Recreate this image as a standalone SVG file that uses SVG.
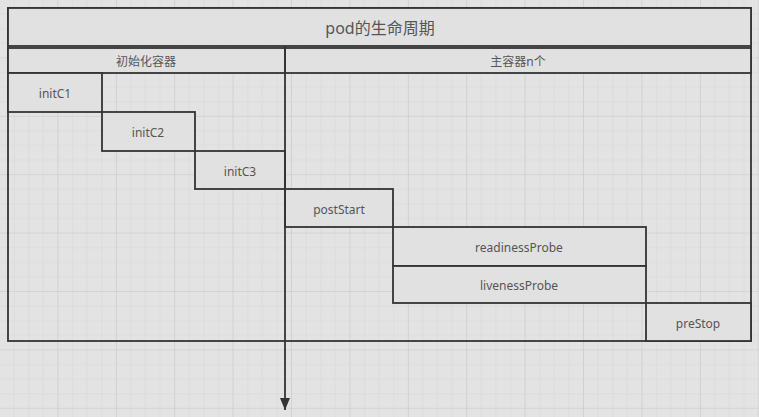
<svg xmlns="http://www.w3.org/2000/svg" width="759" height="417" viewBox="0 0 759 417">
<defs>
<pattern id="minor" width="14.6" height="14.6" patternUnits="userSpaceOnUse" x="0" y="0">
<path d="M14.6 0V14.6H0" fill="none" stroke="#d5d5d5" stroke-width="1"/>
</pattern>
<pattern id="major" width="58.4" height="58.4" patternUnits="userSpaceOnUse" x="0" y="0">
<rect width="58.4" height="58.4" fill="url(#minor)"/>
<path d="M58.4 0V58.4H0" fill="none" stroke="#cbcbcb" stroke-width="1.2"/>
</pattern>
<marker id="arr" markerWidth="12" markerHeight="10" refX="12" refY="5" orient="auto" markerUnits="userSpaceOnUse" viewBox="0 0 12 10">
<path d="M0 0L12 5L0 10Z" fill="#333"/>
</marker>
<style>
.box{fill:#e1e1e1;stroke:#333;stroke-width:1.8}
.frame{fill:none;stroke:#333;stroke-width:1.8}
.t{font-family:"Noto Sans","Noto Sans CJK SC",sans-serif;font-size:12px;fill:#555;text-anchor:middle;dominant-baseline:central}
.title{font-size:16px}
</style>
</defs>
<rect width="759" height="417" fill="#e3e3e3"/>
<rect width="759" height="417" fill="url(#major)"/>
<rect class="frame" x="8" y="8" width="743" height="333"/>
<g id="title"><rect class="box" x="8" y="8" width="743" height="38"/><text class="t title" x="380" y="28">pod的生命周期</text></g>
<g id="init-header"><rect class="box" x="8" y="48" width="277" height="25"/><text class="t" x="146" y="61">初始化容器</text></g>
<g id="main-header"><rect class="box" x="285" y="48" width="466" height="25"/><text class="t" x="518" y="61">主容器n个</text></g>
<g id="initC1"><rect class="box" x="8" y="73" width="94" height="39"/><text class="t" x="55" y="93">initC1</text></g>
<g id="initC2"><rect class="box" x="102" y="112" width="93" height="39"/><text class="t" x="148" y="132">initC2</text></g>
<g id="initC3"><rect class="box" x="195" y="151" width="90" height="38"/><text class="t" x="240" y="171">initC3</text></g>
<g id="postStart"><rect class="box" x="285" y="189" width="108" height="38"/><text class="t" x="339" y="209">postStart</text></g>
<g id="readinessProbe"><rect class="box" x="393" y="227" width="253" height="39"/><text class="t" x="519" y="247">readinessProbe</text></g>
<g id="livenessProbe"><rect class="box" x="393" y="266" width="253" height="37"/><text class="t" x="519" y="285">livenessProbe</text></g>
<g id="preStop"><rect class="box" x="646" y="303" width="105" height="38"/><text class="t" x="698" y="323">preStop</text></g>
<g id="connectors"><line x1="285" y1="46" x2="285" y2="410" stroke="#333" stroke-width="1.8" marker-end="url(#arr)"/></g>
</svg>
